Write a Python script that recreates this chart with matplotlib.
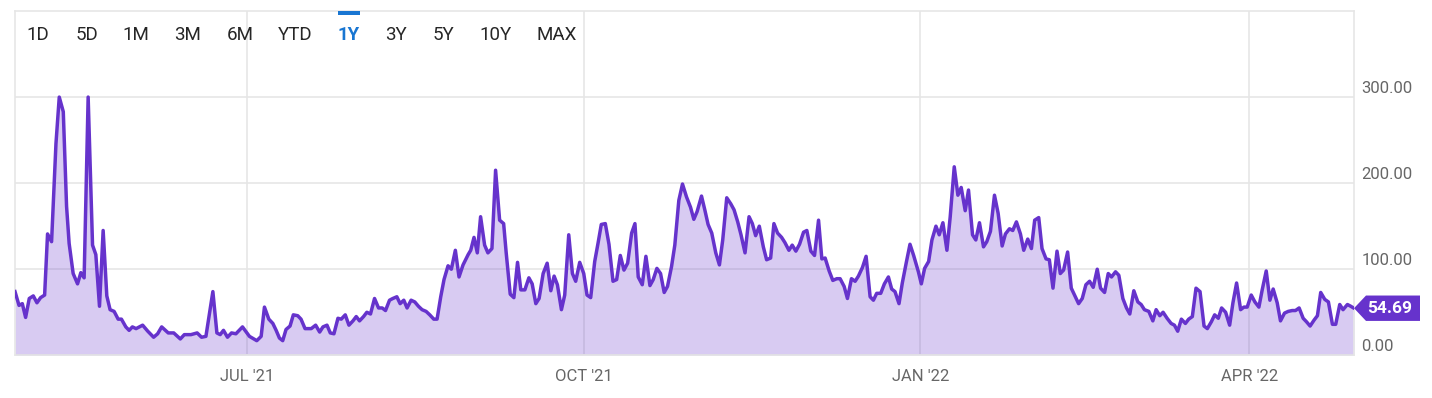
import numpy as np
import pandas as pd
import matplotlib
matplotlib.use("Agg")
import matplotlib.pyplot as plt
import matplotlib.transforms as mtransforms
from matplotlib.patches import Polygon, Rectangle

plt.rcParams.update({
    "font.family": ["Roboto", "DejaVu Sans"],
    "font.size": 12,
})

# days after 2021-04-28 12:00 and the series value on that day
days_may_jun = [0.0, 1.1, 2.0, 2.9, 3.9, 5.0, 6.0, 7.0, 8.1, 8.9, 10.0, 11.2, 12.1, 13.2, 14.1,
                14.8, 15.9, 17.1, 18.0, 18.9, 20.0, 21.2, 22.1, 23.1, 24.1, 25.1, 26.0, 27.1,
                28.2, 29.1, 30.3, 31.2, 32.1, 33.1, 34.9, 36.3, 37.9, 39.0, 40.1, 41.9, 43.4,
                45.2, 46.3, 48.1, 49.8, 51.0, 52.2, 54.1, 55.2, 56.1, 57.0, 58.1, 59.2, 60.4, 62.2]
vals_may_jun = [74, 58, 60, 44, 66, 69, 61, 67, 70, 141, 132, 246, 300, 283, 173,
                130, 95, 83, 96, 90, 300, 128, 117, 57, 145, 69, 53, 51,
                42, 42, 33, 29, 33, 31, 35, 28, 21, 25, 33, 26, 26,
                19, 24, 24, 26, 21, 22, 74, 26, 24, 29, 21, 26, 25, 33]

days_jul_aug = [64.1, 66.1, 67.3, 68.2, 69.4, 70.5, 71.4, 72.3, 73.2, 74.1, 75.2, 76.1, 77.3, 78.2,
                79.3, 81.0, 82.2, 83.3, 84.2, 85.3, 86.2, 87.2, 88.3, 89.2, 90.3, 91.3, 92.4,
                93.3, 94.2, 95.3, 96.2, 97.2, 98.3, 99.4, 100.4, 101.3, 102.4, 103.3, 104.4,
                105.3, 106.3, 107.2, 108.3, 109.3, 110.3, 111.3, 112.4, 113.4, 114.5, 115.4,
                116.4, 117.3, 118.4, 119.3, 120.4, 121.4, 122.5]
vals_jul_aug = [22, 17, 22, 56, 42, 37, 29, 20, 17, 30, 34, 47, 46, 42,
                31, 31, 35, 27, 33, 35, 26, 25, 43, 42, 47, 35, 40,
                45, 40, 45, 50, 48, 66, 55, 55, 52, 64, 66, 68,
                60, 64, 55, 64, 62, 57, 53, 51, 47, 42, 42,
                68, 88, 104, 100, 122, 91, 105]

days_sep_oct = [123.9, 124.6, 125.5, 126.4, 127.3, 128.4, 129.3, 130.4, 131.4, 132.5, 133.6,
                134.3, 135.4, 136.4, 137.4, 138.3, 139.4, 140.5, 141.4, 142.4, 143.3,
                144.4, 145.5, 146.5, 147.4, 148.3, 149.4, 150.3, 151.4, 152.4, 153.3,
                154.4, 155.5, 156.4, 157.4, 158.5, 159.4, 160.3, 161.4, 162.4, 163.5,
                164.5, 165.5, 166.5, 167.5, 168.6, 169.5, 170.4, 171.5, 172.5, 173.6,
                174.5, 175.5, 176.5, 177.5, 178.4, 179.5, 180.4, 181.5, 182.5, 183.6]
vals_sep_oct = [117, 122, 137, 119, 161, 128, 119, 124, 215, 157, 153,
                119, 71, 67, 108, 76, 76, 90, 83, 60, 66,
                95, 107, 75, 92, 82, 53, 70, 140, 95, 86,
                108, 95, 70, 67, 109, 130, 152, 153, 129, 86,
                88, 116, 99, 107, 142, 153, 91, 82, 115, 81,
                88, 101, 95, 73, 80, 103, 128, 180, 199, 184]

days_nov_dec = [184.7, 185.6, 186.5, 187.7, 188.6, 189.5, 190.5, 191.6, 192.6, 193.5,
                194.6, 195.7, 196.6, 197.6, 198.5, 199.6, 200.7, 201.6, 202.5, 203.5,
                204.6, 205.5, 206.6, 207.5, 208.5, 209.6, 210.5, 211.6, 212.5, 213.5,
                214.5, 215.6, 216.5, 217.6, 218.6, 219.7, 220.6, 221.5, 222.6, 223.6,
                224.7, 225.6, 226.7, 227.6, 228.7, 229.7, 230.6, 231.7, 232.7, 233.8,
                234.7, 235.6, 236.7, 237.7, 238.8, 239.7, 240.6, 241.7, 242.6, 243.7,
                244.7, 245.7]
vals_nov_dec = [172, 158, 167, 185, 169, 152, 142, 119, 105, 134,
                183, 176, 169, 155, 140, 119, 161, 153, 139, 150,
                126, 111, 113, 153, 142, 137, 131, 122, 128, 121,
                129, 143, 145, 121, 116, 157, 112, 113, 98, 87,
                89, 89, 80, 66, 89, 86, 92, 102, 115, 68,
                64, 72, 72, 83, 91, 77, 74, 60, 84, 108,
                129, 116]

days_jan_feb = [247.0, 247.8, 248.7, 249.8, 250.7, 251.8, 252.7, 253.7, 254.8,
                255.7, 256.8, 257.8, 258.7, 259.8, 260.7, 261.8, 262.7, 263.7,
                264.8, 265.7, 266.7, 267.8, 268.8, 269.9, 270.8, 271.9, 272.8,
                273.8, 274.9, 275.8, 276.9, 277.9, 278.8, 279.9, 280.8, 281.9,
                282.8, 283.8, 284.9, 285.8, 286.7, 287.8, 288.8, 289.7, 290.8,
                291.8, 292.8, 293.8, 294.8, 295.9, 296.8, 297.9, 298.9, 299.8,
                300.9, 301.8, 302.9, 303.9, 304.8, 305.9, 307.0, 307.9]
vals_jan_feb = [97, 83, 101, 109, 134, 150, 140, 154, 122,
                161, 219, 186, 195, 168, 192, 140, 134, 154,
                126, 132, 144, 186, 165, 127, 141, 147, 145,
                155, 141, 122, 135, 124, 157, 160, 124, 112,
                111, 78, 121, 95, 99, 120, 78, 70, 60,
                66, 82, 86, 79, 100, 78, 73, 95, 91,
                97, 93, 66, 55, 48, 75, 62, 59]

days_mar_apr = [308.8, 310.0, 311.1, 312.0, 313.0, 313.9, 315.0, 316.1, 317.0, 317.9,
                318.9, 320.0, 320.9, 321.9, 322.9, 324.0, 325.1, 326.0, 327.1, 328.0,
                329.0, 329.9, 331.0, 332.1, 333.0, 334.0, 335.1, 336.0, 336.9, 338.0,
                339.0, 340.1, 341.0, 342.1, 343.1, 344.0, 345.1, 346.0, 347.1, 348.1,
                349.2, 350.1, 351.1, 352.2, 353.1, 354.1, 355.2, 356.1, 357.0, 358.1,
                359.1, 360.2, 361.1, 362.2, 363.1, 364.3, 365.2, 366.1]
vals_mar_apr = [53, 51, 40, 53, 46, 50, 43, 37, 35, 28,
                42, 37, 42, 45, 78, 74, 34, 31, 39, 47,
                43, 55, 50, 35, 61, 84, 53, 56, 56, 70,
                62, 56, 76, 98, 64, 77, 61, 40, 49, 51,
                52, 52, 55, 43, 39, 34, 41, 46, 73, 65,
                62, 36, 36, 59, 53, 59, 57, 54.69]

tick_dates = ["2021-07-01", "2021-10-01", "2022-01-01", "2022-04-01"]
tick_labels = ["JUL '21", "OCT '21", "JAN '22", "APR '22"]
y_ticks = [0, 100, 200, 300]
buttons = ["1D", "5D", "1M", "3M", "6M", "YTD", "1Y", "3Y", "5Y", "10Y", "MAX"]
active = "1Y"
last_value = 54.69

days = np.array(days_may_jun + days_jul_aug + days_sep_oct + days_nov_dec
                + days_jan_feb + days_mar_apr)
vals = np.array(vals_may_jun + vals_jul_aug + vals_sep_oct + vals_nov_dec
                + vals_jan_feb + vals_mar_apr, dtype=float)
start = pd.Timestamp("2021-04-28 12:00")
dates = start + pd.to_timedelta(days, unit="D")

purple = "#6633cc"
grid_c = "#e6e6e6"
label_c = "#666666"

W, H = 1432, 398
fig = plt.figure(figsize=(W / 100, H / 100), dpi=100)
ax = fig.add_axes([15 / W, 42.7 / H, 1339 / W, 344.3 / H])

ax.fill_between(dates, vals, 0, color=purple, alpha=0.25, lw=0, zorder=2)
ax.plot(dates, vals, color=purple, lw=2.5, solid_joinstyle="round", zorder=3)

ax.set_xlim(dates[0], dates[-1])
ax.set_ylim(0, 400)
ax.set_xticks(pd.to_datetime(tick_dates))
ax.set_xticklabels(tick_labels)
ax.set_yticks(y_ticks)
ax.grid(True, color=grid_c, lw=1.2, zorder=0)
ax.tick_params(length=0, labelleft=False, pad=10, labelcolor=label_c, labelsize=12)
for s in ax.spines.values():
    s.set_color(grid_c)
    s.set_linewidth(1.2)

# y labels sit just above their grid line, right of the plot
offset = mtransforms.ScaledTranslation(7.5 / 100, 4 / 100, fig.dpi_scale_trans)
trans = mtransforms.blended_transform_factory(ax.transAxes, ax.transData) + offset
for v in y_ticks:
    ax.text(1.0, v, f"{v:.2f}", transform=trans, ha="left", va="baseline",
            color=label_c, fontsize=12, clip_on=False)

# last value tag
xr, yd = ax.transData.transform((ax.get_xlim()[1], last_value))
ident = mtransforms.IdentityTransform()
tag = Polygon([(xr, yd), (xr + 12, yd + 12.7), (xr + 66, yd + 12.7),
               (xr + 66, yd - 12.7), (xr + 12, yd - 12.7)],
              closed=True, facecolor=purple, edgecolor="none", transform=ident)
fig.add_artist(tag)
fig.text(xr + 36, yd, f"{last_value:.2f}", transform=ident, ha="center", va="center",
         color="white", fontsize=12.5, fontweight="bold")

# range buttons
btn_x = [38, 86.5, 135.7, 188, 240, 295, 348.5, 395.5, 443, 495.5, 556.5]
for b, bx in zip(buttons, btn_x):
    on = b == active
    fig.text(bx / W, 1 - 35.5 / H, b, ha="center", va="center", fontsize=13.5,
             color="#1976d2" if on else "#262626", fontweight="bold" if on else "normal")
    if on:
        fig.add_artist(Rectangle(((bx - 11) / W, 1 - 15 / H), 22 / W, 4 / H,
                                 transform=fig.transFigure, facecolor="#1976d2",
                                 edgecolor="none"))

fig.savefig("out.png", dpi=100)
